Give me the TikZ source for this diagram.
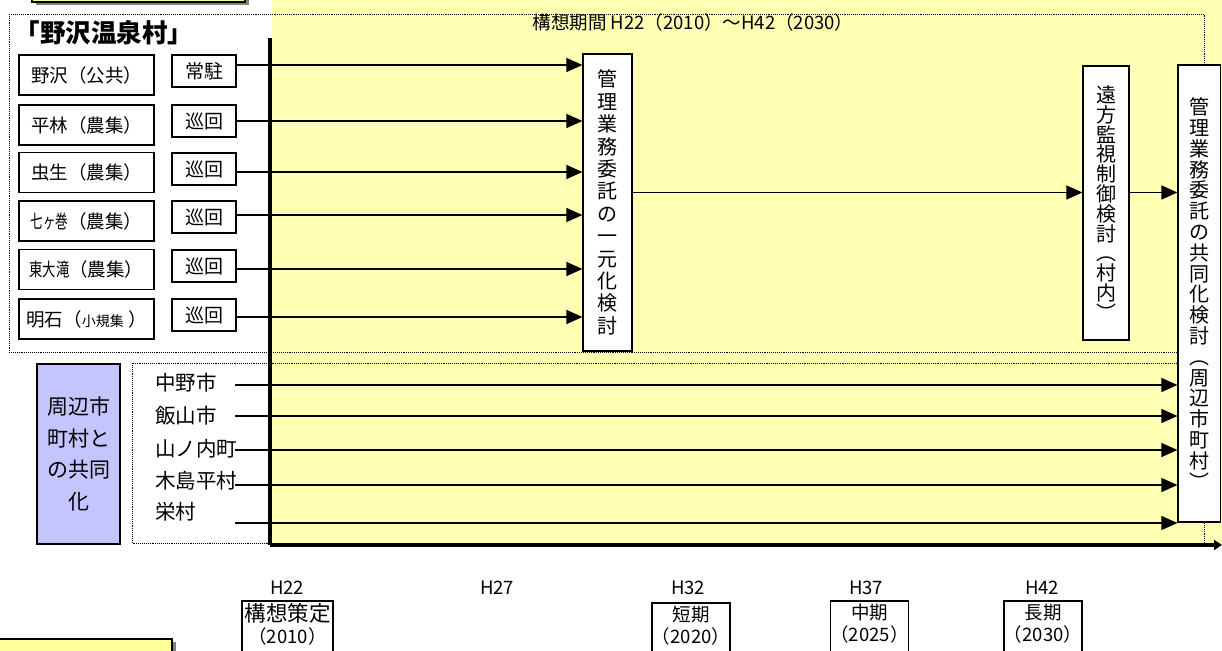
\documentclass[tikz,border=0pt]{standalone}
\usepackage{fontspec}
\setmainfont{Noto Sans CJK JP}
\usetikzlibrary{arrows.meta,shadows}
\definecolor{bgyellow}{RGB}{255,255,180}
\definecolor{boxyellow}{RGB}{255,255,153}
\definecolor{boxblue}{RGB}{196,196,255}
\definecolor{shadowgray}{RGB}{128,128,128}
\tikzset{
  vill/.style={draw, line width=1.6pt, fill=white, minimum width=135pt, minimum height=40pt, inner sep=0pt, font=\fontsize{18.5}{18.5}\selectfont},
  mode/.style={draw, line width=1.6pt, fill=white, minimum width=64pt, minimum height=32pt, inner sep=0pt, font=\fontsize{19}{19}\selectfont},
  vbox/.style={draw, line width=1.2pt, fill=white, inner sep=0pt, align=center},
  arr/.style={-{Triangle[length=16pt,width=14pt]}, line width=1.3pt},
  axisline/.style={line width=3.5pt},
  frame/.style={densely dotted, line width=0.9pt},
  lbl/.style={font=\fontsize{18.5}{18.5}\selectfont, inner sep=0pt},
  town/.style={font=\fontsize{20.5}{20.5}\selectfont, inner sep=0pt, anchor=west},
  period/.style={draw, line width=1.6pt, fill=white, anchor=north, inner xsep=0pt, inner ysep=3pt, align=center, text depth=40pt, font=\fontsize{18.5}{22}\selectfont},
  sbox/.style={draw, line width=1.6pt, fill=boxyellow, inner sep=0pt, drop shadow={shadow xshift=3.5pt, shadow yshift=-3pt, fill=shadowgray, opacity=1}},
}
\begin{document}
\begin{tikzpicture}[x=1pt,y=-1pt]
\clip (0,0) rectangle (1222,650);
% background
\fill[bgyellow] (272,0) rectangle (1222,545);
% partial boxes at the corners
\node[sbox, minimum width=213pt, minimum height=30pt] (topbox) at (138.5,-13) {};
\node[sbox, minimum width=180pt, minimum height=30pt] (botbox) at (82,654) {};
% frames
\draw[frame] (9,14) rectangle (1204,352);
\draw[frame] (132,363) rectangle (1204,543);
% axes
\coordinate (ytop) at (270,38);
\coordinate (orig) at (270,545);
\coordinate (xend) at (1222,545);
\draw[axisline] (ytop) -- (orig);
\draw[axisline, -{Triangle[length=8pt,width=10pt]}] (orig) -- (xend);
% title
\node[lbl] (title) at (693,22) {構想期間 H22（2010）～H42（2030）};
\node[font=\bfseries\fontsize{25.5}{25.5}\selectfont, inner sep=0pt] (village) at (104,33) {「野沢温泉村」};
% village rows
\node[vill] (v1) at (86.5,75) {野沢（公共）};
\node[vill] (v2) at (86.5,125) {平林（農集）};
\node[vill] (v3) at (86.5,172.5) {虫生（農集）};
\node[vill] (v4) at (86.5,221) {\scalebox{0.68}[1]{七ヶ巻}（農集）};
\node[vill] (v5) at (86.5,269.5) {\scalebox{0.72}[1]{東大滝}（農集）};
\node[vill] (v6) at (86.5,319) {明石（{\fontsize{14}{14}\selectfont 小規集} ）};
\node[mode] (s1) at (204,71) {常駐};
\node[mode] (s2) at (204,121) {巡回};
\node[mode] (s3) at (204,169) {巡回};
\node[mode] (s4) at (204,217) {巡回};
\node[mode] (s5) at (204,266) {巡回};
\node[mode] (s6) at (204,315) {巡回};
% vertical boxes
\node[vbox, minimum width=49pt, minimum height=297pt, font=\fontsize{20}{22.4}\selectfont] (m1) at (607.5,202.5)
  {管\\理\\業\\務\\委\\託\\の\\一\\元\\化\\検\\討};
\node[vbox, minimum width=46pt, minimum height=274pt, font=\fontsize{20}{19.8}\selectfont] (r1) at (1106,203)
  {遠\\方\\監\\視\\制\\御\\検\\討\\︵\\村\\内\\︶};
\node[vbox, minimum width=42.5pt, minimum height=457pt, font=\fontsize{20}{20.8}\selectfont] (r2) at (1199.25,293.5)
  {管\\理\\業\\務\\委\\託\\の\\共\\同\\化\\検\\討\\︵\\周\\辺\\市\\町\\村\\︶};
% arrows from rows
\draw[arr] ([yshift=6pt]s1.east) coordinate (t1) -- (t1 -| m1.west);
\draw[arr] (s2.east) coordinate (t2) -- (t2 -| m1.west);
\draw[arr] ([yshift=-3pt]s3.east) coordinate (t3) -- (t3 -| m1.west);
\draw[arr] ([yshift=2pt]s4.east) coordinate (t4) -- (t4 -| m1.west);
\draw[arr] ([yshift=-3pt]s5.east) coordinate (t5) -- (t5 -| m1.west);
\draw[arr] ([yshift=-2pt]s6.east) coordinate (t6) -- (t6 -| m1.west);
\draw[arr] ([yshift=10pt]m1.east) coordinate (tm) -- (tm -| r1.west);
\draw[arr] (tm -| r1.east) -- (tm -| r2.west);
% neighbouring municipalities
\node[draw, line width=1.6pt, fill=boxblue, minimum width=83pt, minimum height=180pt, inner sep=0pt, align=center, font=\fontsize{21}{31.7}\selectfont] (blue) at (78.5,454) {周辺市\\町村と\\の共同\\化};
\node[town] (n1) at (155,383) {中野市};
\node[town] (n2) at (155,416) {飯山市};
\node[town] (n3) at (155,449) {山ノ内町};
\node[town] (n4) at (155,481) {木島平村};
\node[town] (n5) at (155,512) {栄村};
\coordinate (c1) at (235,385);
\coordinate (c2) at (235,416);
\coordinate (c3) at (235,450);
\coordinate (c4) at (235,485);
\coordinate (c5) at (235,523);
\foreach \c in {c1,c2,c3,c4,c5} {\draw[arr] (\c) -- (\c -| r2.west);}
% timeline labels
\node[lbl] (h22) at (287,588) {H22};
\node[lbl] (h27) at (497,588) {H27};
\node[lbl] (h32) at (688,588) {H32};
\node[lbl] (h37) at (866,588) {H37};
\node[lbl] (h42) at (1042,588) {H42};
\node[period, minimum width=91pt, font=\fontsize{21.5}{22}\selectfont] (p1) at (287.5,600) {構想策定\\{\fontsize{18.5}{18.5}\selectfont（2010）}};
\node[period, minimum width=76pt] (p2) at (691,602) {短期\\（2020）};
\node[period, minimum width=75pt] (p3) at (869.5,600) {中期\\（2025）};
\node[period, minimum width=76pt] (p4) at (1043,600) {長期\\（2030）};
\end{tikzpicture}
\end{document}
